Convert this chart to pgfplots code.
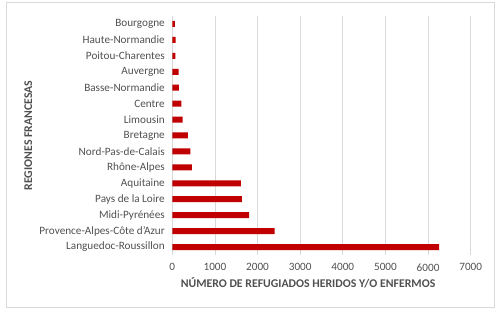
\documentclass[border=0pt]{standalone}
\usepackage{pgfplots}
\pgfplotsset{compat=1.18}
\usepackage{fontspec}
\setmainfont{Carlito}
\definecolor{barred}{HTML}{C00000}
\definecolor{txtgray}{HTML}{505050}
\definecolor{gridgray}{HTML}{D9D9D9}
\definecolor{framegray}{HTML}{D9D9D9}

\pgfplotstableread[col sep=comma]{
idx,value,region
0,6260,Languedoc-Roussillon
1,2400,Provence-Alpes-Côte d'Azur
2,1800,Midi-Pyrénées
3,1630,Pays de la Loire
4,1610,Aquitaine
5,462,Rhône-Alpes
6,422,Nord-Pas-de-Calais
7,368,Bretagne
8,244,Limousin
9,211,Centre
10,157,Basse-Normandie
11,150,Auvergne
12,70,Poitou-Charentes
13,80,Haute-Normandie
14,63,Bourgogne
}\refugiados

\begin{document}
\begin{tikzpicture}[x=1pt,y=1pt]
\path[use as bounding box] (0,0) rectangle (500,313);
\draw[framegray, line width=1pt] (6,6) rectangle (494,310);
\begin{axis}[
  at={(172.3pt,58pt)}, anchor=south west,
  scale only axis,
  width=298.4pt, height=239pt,
  xbar, bar width=6pt,
  xmin=0, xmax=7000,
  ymin=-0.5, ymax=14.5,
  xtick={0,1000,...,7000},
  ytick={0,...,14},
  yticklabels from table={\refugiados}{region},
  axis line style={draw=none},
  major tick length=0pt,
  xmajorgrids,
  grid style={gridgray, line width=0.8pt},
  tick label style={font=\fontsize{11.2}{13}\selectfont, text=txtgray},
  /pgf/number format/assume math mode=true,
  /pgf/number format/set thousands separator={},
  xticklabel style={yshift=-5pt},
  yticklabel style={xshift=-4pt},
  xlabel={\textbf{NÚMERO DE REFUGIADOS HERIDOS Y/O ENFERMOS}},
  ylabel={\textbf{REGIONES FRANCESAS}},
  label style={font=\fontsize{11.8}{14}\selectfont, text=txtgray},
  xlabel style={at={(axis description cs:0.455,0)}, anchor=center, yshift=-28pt},
  ylabel style={at={(axis description cs:-0.4826,0.5)}, anchor=center, rotate=0},
]
\addplot[fill=barred, draw=none] table[x=value, y=idx] {\refugiados};
\end{axis}
\end{tikzpicture}
\end{document}
